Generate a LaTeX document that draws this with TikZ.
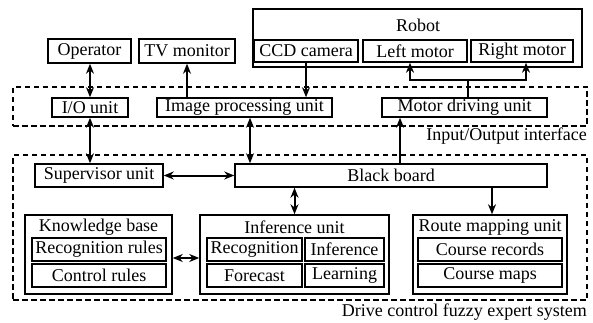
\documentclass[tikz,border=0pt]{standalone}
\usepackage{fontspec}
\setmainfont{Liberation Serif}
\usetikzlibrary{arrows.meta}
\newcommand\bx[7][]{\node[box,#1,minimum width={(#5-#3)*1pt},minimum height={(#6-#4)*1pt}] (#2) at ({(#3+#5)/2},{(#4+#6)/2}) {#7};}
\begin{document}
\begin{tikzpicture}[x=1pt,y=-1pt,
  box/.style={draw,line width=1.5pt,inner sep=0pt,font=\fontsize{18}{20}\selectfont},
  dbox/.style={draw,line width=1.1pt,dash pattern=on 5.5pt off 3.5pt,inner sep=0pt},
  lbl/.style={inner sep=0pt,font=\fontsize{18}{20}\selectfont},
  arr/.style={line width=2pt,-{Stealth[length=10pt,width=8pt]}},
  tarr/.style={line width=1.3pt,-{Stealth[length=10pt,width=8pt]}},
  dbl/.style={line width=2pt,{Stealth[length=10pt,width=8pt]}-{Stealth[length=10pt,width=8pt]}}]
\useasboundingbox (0,0) rectangle (593,323);
% dashed frames
\bx[dbox]{iof}{13}{87}{587}{126}{}
\bx[dbox]{dcf}{13}{155}{587}{300}{}
\node[lbl,anchor=east] (iolbl) at (587,136) {Input/Output interface};
\node[lbl,anchor=east] (dclbl) at (587,312) {Drive control fuzzy expert system};
% top row
\bx{op}{48}{39}{131}{63}{Operator}
\bx{tv}{139}{39}{235}{63}{TV monitor}
\bx{robot}{253}{9}{582}{67}{}
\node[lbl] (robotlbl) at (418,25) {Robot};
\bx{ccd}{254}{40}{358}{62}{CCD camera}
\bx{lm}{363}{40}{467}{62}{Left motor}
\bx{rm}{471}{40}{573}{62}{Right motor}
% interface
\bx{io}{52}{98}{128}{117}{I/O unit}
\bx{img}{157}{98}{332}{117}{Image processing unit}
\bx{md}{382}{98}{547}{117}{Motor driving unit}
% expert system
\bx{sup}{35}{164}{163}{187}{Supervisor unit}
\bx{bb}{235}{164}{547}{187}{Black board}
\bx{kb}{25}{215}{172}{294}{}
\node[lbl] (kblbl) at (98.5,227) {Knowledge base};
\bx{rr}{32}{238}{166}{261}{Recognition rules}
\bx{cr}{32}{264}{166}{287}{Control rules}
\bx{inf}{200}{215}{389}{294}{}
\node[lbl] (inflbl) at (294.5,227) {Inference unit};
\bx{rec}{207}{238}{302}{261}{Recognition}
\bx{infer}{305}{238}{384}{261}{Inference}
\bx{fc}{207}{264}{302}{287}{Forecast}
\bx{lrn}{305}{264}{384}{287}{Learning}
\bx{route}{413}{215}{567}{294}{}
\node[lbl] (routelbl) at (490,227) {Route mapping unit};
\bx{crec}{418}{238}{562}{261}{Course records}
\bx{cmap}{418}{264}{562}{287}{Course maps}
% connectors
\draw[dbl] (io.north) -- (io.north |- op.south);
\draw[tarr] (img.north -| tv.south) -- (tv.south);
\draw[arr] (ccd.south) -- (ccd.south |- img.north);
\coordinate (mj) at (468,80);
\coordinate (ml) at (410,80);
\coordinate (mr) at (526,80);
\draw[line width=1.3pt] (md.north -| mj) -- (mj);
\draw[arr] (mj) -- (ml) -- (ml |- lm.south);
\draw[arr] (mj) -- (mr) -- (mr |- rm.south);
\draw[dbl] (io.south) -- (io.south |- sup.north);
\coordinate (xa) at (250,0);
\draw[dbl] (img.south -| xa) -- (bb.north -| xa);
\coordinate (xb) at (400,0);
\draw[arr] (bb.north -| xb) -- (md.south -| xb);
\draw[dbl] (sup.east) -- (bb.west);
\draw[dbl] (bb.south -| inf.north) -- (inf.north);
\coordinate (xc) at (492,0);
\draw[arr] (bb.south -| xc) -- (route.north -| xc);
\coordinate (ya) at (0,258);
\draw[dbl] (kb.east |- ya) -- (inf.west |- ya);
\end{tikzpicture}
\end{document}
